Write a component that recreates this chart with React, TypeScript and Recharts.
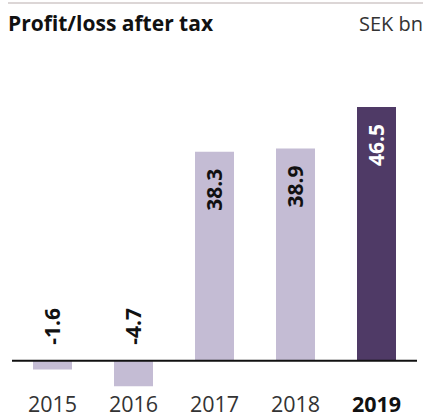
import { BarChart, Bar, XAxis, YAxis, Cell, LabelList, ReferenceLine } from 'recharts';

const YEARS = ['2015', '2016', '2017', '2018', '2019'];
const PROFIT = [-1.6, -4.7, 38.3, 38.9, 46.5];

const LIGHT = '#c4bcd4';
const DARK = '#4f3a66';
const FONT = '"Open Sans", "Noto Sans", sans-serif';

const data = YEARS.map((year, i) => ({ year, value: PROFIT[i] }));

function YearTick(props: any) {
    const { x, y, payload } = props;
    const last = payload.value === YEARS[YEARS.length - 1];
    return (
        <text
            x={x}
            y={y + 16}
            textAnchor="middle"
            fontFamily={FONT}
            fontSize={21.5}
            fontWeight={last ? 700 : 400}
            fill={last ? '#111' : '#333'}
        >
            {payload.value}
        </text>
    );
}

function ValueLabel(props: any) {
    const { x, y, width, height, value, index } = props;
    const cx = x + width / 2;
    const last = index === YEARS.length - 1;
    let ty: number;
    let anchor: 'start' | 'end';
    if (value >= 0) {
        ty = Math.min(y, y + height) + 17;
        anchor = 'end';
    } else {
        ty = Math.min(y, y + height) - 16;
        anchor = 'start';
    }
    return (
        <text
            x={cx}
            y={ty}
            transform={`rotate(-90 ${cx} ${ty})`}
            textAnchor={anchor}
            dominantBaseline="central"
            fontFamily={FONT}
            fontSize={21}
            fontWeight={700}
            fill={last ? '#fff' : '#111'}
        >
            {value.toFixed(1)}
        </text>
    );
}

export default function App() {
    return (
        <div style={{ position: 'absolute', left: 0, top: 0, width: 428, height: 418, background: '#fff', fontFamily: FONT }}>
            <div style={{ position: 'absolute', left: 8, right: 5, top: 2, height: 2, background: '#dcd6d6' }} />
            <div style={{ position: 'absolute', left: 8, top: 9, fontSize: 21, fontWeight: 700, color: '#111' }}>
                Profit/loss after tax
            </div>
            <div style={{ position: 'absolute', right: 5, top: 10, fontSize: 20, color: '#333' }}>SEK bn</div>
            <BarChart
                width={428}
                height={418}
                data={data}
                margin={{ top: 88, right: 11, left: 12, bottom: 0 }}
                barSize={39}
            >
                <XAxis
                    dataKey="year"
                    axisLine={false}
                    tickLine={false}
                    tick={<YearTick />}
                    interval={0}
                    height={30}
                />
                <YAxis hide domain={[-5, 50]} />
                <Bar dataKey="value" isAnimationActive={false}>
                    {data.map((d, i) => (
                        <Cell key={d.year} fill={i === data.length - 1 ? DARK : LIGHT} />
                    ))}
                    <LabelList dataKey="value" content={<ValueLabel />} />
                </Bar>
                <ReferenceLine y={0} stroke="#111" strokeWidth={2} />
            </BarChart>
        </div>
    );
}
